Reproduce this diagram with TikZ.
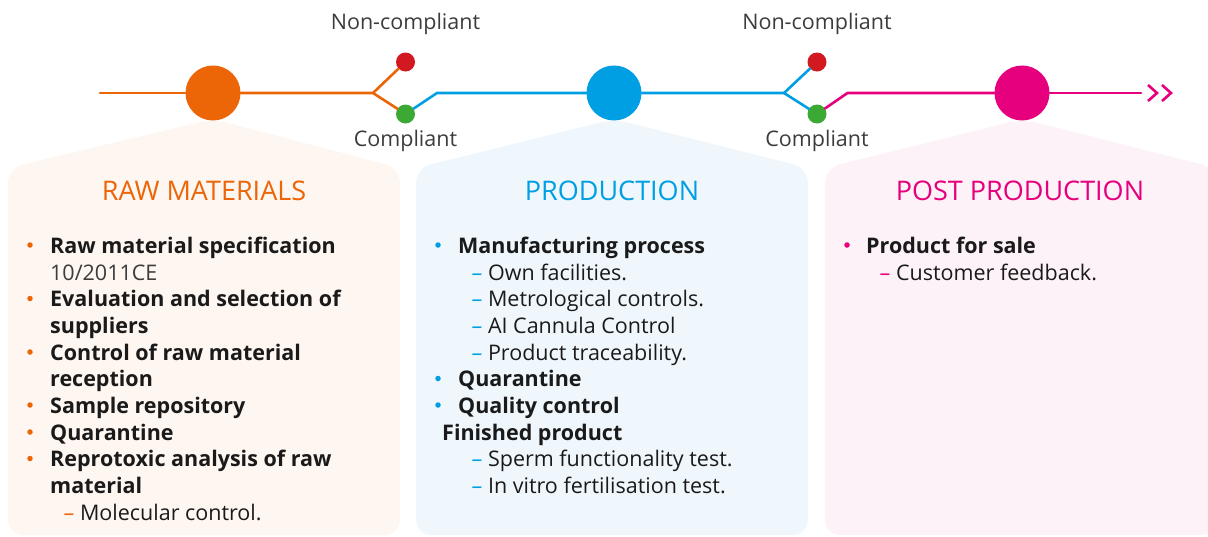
\documentclass[tikz,border=0pt]{standalone}
\usepackage{fontspec}
\setmainfont{Open Sans}
\usepackage{tikz}
\usetikzlibrary{calc}
\definecolor{rawc}{HTML}{EC6608}
\definecolor{prodc}{HTML}{009FE3}
\definecolor{postc}{HTML}{E6007E}
\definecolor{nokc}{HTML}{D2191F}
\definecolor{okc}{HTML}{3DA935}
\definecolor{rawbg}{HTML}{FEF6F1}
\definecolor{prodbg}{HTML}{F0F7FC}
\definecolor{postbg}{HTML}{FDF2F8}
\definecolor{ink}{HTML}{1A1A1A}
\definecolor{greyink}{HTML}{3C3C3C}
\def \bodysz{\fontsize{21.5}{26}\selectfont}
\def \titlesz{\fontsize{27}{32}\selectfont}

\begin{document}
\begin{tikzpicture}[line cap=round,line join=round,x=1pt,y=-1pt,
  stage/.style={circle,minimum size=55pt,inner sep=0pt},
  dot/.style={circle,minimum size=19pt,inner sep=0pt},
  bul/.style={circle,minimum size=5.5pt,inner sep=0pt},
  tline/.style={line width=2.6pt},
  item/.style={anchor=base west,inner sep=0pt,font=\bodysz\bfseries,text=ink},
  sub/.style={anchor=base west,inner sep=0pt,font=\bodysz,text=ink},
  ptitle/.style={anchor=base,inner sep=0pt,font=\titlesz},
  lbl/.style={anchor=base,inner sep=0pt,font=\bodysz,text=greyink}]
\useasboundingbox (0,0) rectangle (1208,536);
% panels
\fill [rawbg, rounded corners=15pt] (8,535) -- (8,168) -- (213,119) -- (400,168) -- (400,535) -- cycle;
\fill [prodbg, rounded corners=15pt] (416,535) -- (416,168) -- (614,119) -- (808,168) -- (808,535) -- cycle;
\fill [postbg, rounded corners=15pt] (825,535) -- (825,168) -- (1022,119) -- (1216,168) -- (1216,535) -- cycle;
% timeline
\node [stage, fill=rawc] (raw) at (213,93) {};
\node [stage, fill=prodc] (prod) at (614,93) {};
\node [stage, fill=postc] (post) at (1022,93) {};
\node [dot, fill=nokc] (nok1) at (405.5,62) {};
\node [dot, fill=okc] (ok1) at (405.5,114) {};
\node [dot, fill=nokc] (nok2) at (817,62) {};
\node [dot, fill=okc] (ok2) at (817,114) {};
\coordinate (start) at (100,93);
\coordinate (fork1) at (373,93);
\coordinate (join1) at (437,93);
\coordinate (fork2) at (784,93);
\coordinate (join2) at (847.5,93);
\coordinate (stop) at (1141,93);
\draw [tline, rawc] (start) -- (raw);
\draw [tline, rawc] (raw) -- (fork1) -- (nok1);
\draw [tline, rawc] (fork1) -- (ok1);
\draw [tline, prodc] (ok1) -- (join1) -- (prod);
\draw [tline, prodc] (prod) -- (fork2) -- (nok2);
\draw [tline, prodc] (fork2) -- (ok2);
\draw [tline, postc] (ok2) -- (join2) -- (post);
\draw [tline, postc] (post) -- (stop);
\draw [tline, postc, line cap=butt, line join=miter] (1148,85) -- (1157,93) -- (1148,101);
\draw [tline, postc, line cap=butt, line join=miter] (1162,85) -- (1171,93) -- (1162,101);
\node [lbl] (nc1) at (405.5,29) {Non-compliant};
\node [lbl] (c1) at (405.5,146) {Compliant};
\node [lbl] (nc2) at (817,29) {Non-compliant};
\node [lbl] (c2) at (817,146) {Compliant};
% titles
\node [ptitle, text=rawc] (rawt) at (204,200) {RAW MATERIALS};
\node [ptitle, text=prodc] (prodt) at (612,200) {PRODUCTION};
\node [ptitle, text=postc] (postt) at (1020,200) {POST PRODUCTION};
% raw materials
\node [bul, fill=rawc] (rb1) at (30,245) {};
\node [item] (r1) at (50,253) {Raw material specification};
\node [sub, text=greyink] (r2) at (50,280) {10/2011CE};
\node [bul, fill=rawc] (rb3) at (30,298.5) {};
\node [item] (r3) at (50,306.5) {Evaluation and selection of};
\node [item] (r4) at (50,333) {suppliers};
\node [bul, fill=rawc] (rb5) at (30,352) {};
\node [item] (r5) at (50,360) {Control of raw material};
\node [item] (r6) at (50,386.5) {reception};
\node [bul, fill=rawc] (rb7) at (30,405) {};
\node [item] (r7) at (50,413) {Sample repository};
\node [bul, fill=rawc] (rb8) at (30,432) {};
\node [item] (r8) at (50,440) {Quarantine};
\node [bul, fill=rawc] (rb9) at (30,458.5) {};
\node [item] (r9) at (50,466.5) {Reprotoxic analysis of raw};
\node [item] (r10) at (50,493) {material};
\node [sub] (r11) at (63.5,520) {\textcolor{rawc}{–} Molecular control.};
% production
\node [bul, fill=prodc] (pb1) at (438,245) {};
\node [item] (p1) at (458,253) {Manufacturing process};
\node [sub] (p2) at (471.5,280) {\textcolor{prodc}{–} Own facilities.};
\node [sub] (p3) at (471.5,306.5) {\textcolor{prodc}{–} Metrological controls.};
\node [sub] (p4) at (471.5,333) {\textcolor{prodc}{–} AI Cannula Control};
\node [sub] (p5) at (471.5,360) {\textcolor{prodc}{–} Product traceability.};
\node [bul, fill=prodc] (pb6) at (438,378.5) {};
\node [item] (p6) at (458,386.5) {Quarantine};
\node [bul, fill=prodc] (pb7) at (438,405) {};
\node [item] (p7) at (458,413) {Quality control};
\node [item] (p8) at (442,440) {Finished product};
\node [sub] (p9) at (471.5,466.5) {\textcolor{prodc}{–} Sperm functionality test.};
\node [sub] (p10) at (471.5,493) {\textcolor{prodc}{–} In vitro fertilisation test.};
% post production
\node [bul, fill=postc] (sb1) at (847,245) {};
\node [item] (s1) at (866,253) {Product for sale};
\node [sub] (s2) at (879.5,280) {\textcolor{postc}{–} Customer feedback.};
\end{tikzpicture}
\end{document}
